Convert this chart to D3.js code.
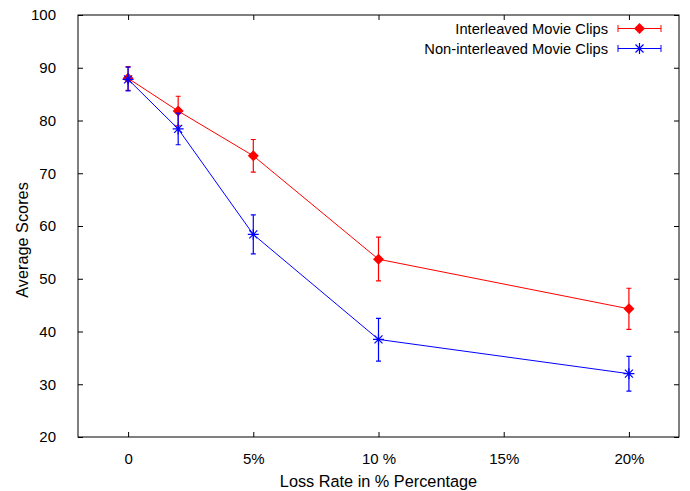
<!DOCTYPE html>
<meta charset="utf-8">
<style>
body { margin: 0; background: #fff; }
text { font-family: "Liberation Sans", Arial, sans-serif; font-size: 15px; fill: #000; }
.axis path { display: none; }
.axis line { stroke: #000; stroke-width: 1px; }
.frame { fill: none; stroke: #000; stroke-width: 1px; }
</style>
<svg width="690" height="491"></svg>
<script src="https://cdn.jsdelivr.net/npm/d3@7"></script>
<script>

// loss rate (%) for each measurement
var lossRates = [0, 2, 5, 10, 20];

// interleaved clips: mean score and error bar ends
var interleaved = [88.0, 81.8, 73.3, 53.7, 44.3];
var interleavedLow = [85.7, 79.0, 70.2, 49.6, 40.4];
var interleavedHigh = [90.2, 84.6, 76.4, 57.9, 48.2];

// non-interleaved clips
var nonInterleaved = [87.8, 78.4, 58.4, 38.5, 32.0];
var nonInterleavedLow = [85.6, 75.4, 54.7, 34.4, 28.7];
var nonInterleavedHigh = [90.1, 81.4, 62.1, 42.5, 35.3];

var xTickValues = [0, 5, 10, 15, 20];
var xTickLabels = ["0", "5%", "10 %", "15%", "20%"];
var yTickValues = [20, 30, 40, 50, 60, 70, 80, 90, 100];

var svg = d3.select("svg"),
    plot = {left: 78, right: 679, top: 15, bottom: 437};

var x = d3.scaleLinear().domain([-2, 22]).range([plot.left, plot.right]);
var y = d3.scaleLinear().domain([20, 100]).range([plot.bottom, plot.top]);

// axes, ticks pointing inwards on all four sides
svg.append("g").attr("class", "axis")
    .attr("transform", "translate(0," + plot.bottom + ")")
    .call(d3.axisBottom(x).tickValues(xTickValues).tickSize(-5).tickPadding(16)
        .tickFormat(function(d, i) { return xTickLabels[i]; }));
svg.append("g").attr("class", "axis")
    .attr("transform", "translate(0," + plot.top + ")")
    .call(d3.axisTop(x).tickValues(xTickValues).tickSize(-5).tickFormat(""));
svg.append("g").attr("class", "axis")
    .attr("transform", "translate(" + plot.left + ",0)")
    .call(d3.axisLeft(y).tickValues(yTickValues).tickSize(-5).tickPadding(22));
svg.append("g").attr("class", "axis")
    .attr("transform", "translate(" + plot.right + ",0)")
    .call(d3.axisRight(y).tickValues(yTickValues).tickSize(-5).tickFormat(""));

svg.selectAll(".axis text").style("font-size", "15px").style("font-family", "'Liberation Sans', Arial, sans-serif");

svg.append("rect").attr("class", "frame")
    .attr("x", plot.left).attr("y", plot.top)
    .attr("width", plot.right - plot.left).attr("height", plot.bottom - plot.top);

svg.append("text")
    .attr("x", (plot.left + plot.right) / 2).attr("y", 486.5)
    .attr("text-anchor", "middle")
    .style("font-size", "16.3px")
    .text("Loss Rate in % Percentage");

svg.append("text")
    .attr("transform", "translate(28,240) rotate(-90)")
    .attr("text-anchor", "middle")
    .style("font-size", "16.3px")
    .text("Average Scores");

function diamond(g, cx, cy, color) {
    var r = 5.5;
    g.append("path")
        .attr("d", "M" + cx + "," + (cy - r) + "L" + (cx + r) + "," + cy + "L" + cx + "," + (cy + r) + "L" + (cx - r) + "," + cy + "Z")
        .attr("fill", color);
}

function star(g, cx, cy, color) {
    var r = 5.5, d = 4;
    g.append("path")
        .attr("d", "M" + (cx - r) + "," + cy + "H" + (cx + r) +
            "M" + (cx - d) + "," + (cy - d) + "L" + (cx + d) + "," + (cy + d) +
            "M" + (cx - d) + "," + (cy + d) + "L" + (cx + d) + "," + (cy - d) +
            "M" + cx + "," + (cy - r) + "V" + (cy + r))
        .attr("stroke", color).attr("stroke-width", 1.2).attr("fill", "none");
}

var series = [
    {name: "Interleaved Movie Clips", color: "#ff0000", vals: interleaved, lo: interleavedLow, hi: interleavedHigh, mark: diamond},
    {name: "Non-interleaved Movie Clips", color: "#0000ff", vals: nonInterleaved, lo: nonInterleavedLow, hi: nonInterleavedHigh, mark: star}
];

var line = d3.line()
    .x(function(d) { return x(d[0]); })
    .y(function(d) { return y(d[1]); });

series.forEach(function(s, k) {
    var g = svg.append("g");
    var pts = lossRates.map(function(r, i) { return [r, s.vals[i]]; });
    g.append("path").datum(pts)
        .attr("d", line)
        .attr("fill", "none").attr("stroke", s.color).attr("stroke-width", 1);

    // error bars
    lossRates.forEach(function(r, i) {
        var cx = x(r), cap = 2.5;
        g.append("path")
            .attr("d", "M" + cx + "," + y(s.lo[i]) + "V" + y(s.hi[i]) +
                "M" + (cx - cap) + "," + y(s.lo[i]) + "H" + (cx + cap) +
                "M" + (cx - cap) + "," + y(s.hi[i]) + "H" + (cx + cap))
            .attr("stroke", s.color).attr("stroke-width", 1.2).attr("fill", "none");
        s.mark(g, cx, y(s.vals[i]), s.color);
    });

    // legend entry
    var ly = 28.5 + k * 20;
    svg.append("text")
        .attr("x", 608).attr("y", ly)
        .attr("dy", "0.36em")
        .attr("text-anchor", "end")
        .style("font-size", "14.7px")
        .text(s.name);
    svg.append("path")
        .attr("d", "M618," + ly + "H661M618," + (ly - 3.5) + "V" + (ly + 3.5) + "M661," + (ly - 3.5) + "V" + (ly + 3.5))
        .attr("stroke", s.color).attr("stroke-width", 1).attr("fill", "none");
    s.mark(svg, 639.5, ly, s.color);
});

</script>
